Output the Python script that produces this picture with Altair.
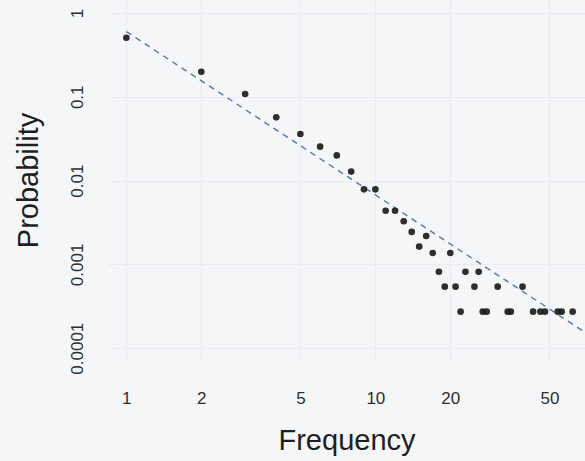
import altair as alt
import pandas as pd

# Frequency values (x) and their probabilities (y)
freq = [1, 2, 3, 4, 5, 6, 7, 8, 9, 10, 11, 12, 13, 14, 15, 16, 17, 18, 19, 20,
        21, 22, 23, 25, 26, 27, 28, 31, 34, 35, 39, 43, 46, 48, 54, 56, 62]
prob = [0.507, 0.199, 0.108, 0.0569, 0.036, 0.0254, 0.020, 0.0128, 0.00787, 0.00787,
        0.00437, 0.00437, 0.00327, 0.00244, 0.00163, 0.00218, 0.00137, 0.000818, 0.000542, 0.00137,
        0.000542, 0.000273, 0.000818, 0.000542, 0.000818, 0.000273, 0.000273, 0.000542, 0.000273, 0.000273,
        0.000542, 0.000273, 0.000273, 0.000273, 0.000273, 0.000273, 0.000273]

# Fitted power-law reference line endpoints
fit_x = [1, 69]
fit_p = [0.6, 0.000157]

x_ticks = [1, 2, 5, 10, 20, 50]
y_ticks = [1, 0.1, 0.01, 0.001, 0.0001]

pts = pd.DataFrame({"Frequency": freq, "Probability": prob})
fit = pd.DataFrame({"Frequency": fit_x, "Probability": fit_p})

FONT = "Liberation Sans"

xscale = alt.Scale(type="log", domain=[0.844, 69.5], nice=False)
yscale = alt.Scale(type="log", domain=[7.23e-5, 1.43], nice=False)

xaxis = alt.Axis(values=x_ticks, format="~g", domain=False, ticks=False, tickSize=0,
                 labelFontSize=17, labelPadding=43, labelBaseline="alphabetic",
                 labelColor="#2e2e2e", labelFont=FONT,
                 title="Frequency", titleFont=FONT, titleFontSize=29, titleFontWeight="normal",
                 titleColor="#1e1e1e", titleY=89, titleBaseline="alphabetic",
                 gridColor="#ebecef", gridWidth=1)
yaxis = alt.Axis(values=y_ticks, format="~g", domain=False, ticks=False, tickSize=0,
                 labelFontSize=17, labelPadding=26, labelAngle=270, labelAlign="center",
                 labelBaseline="alphabetic", labelColor="#2e2e2e", labelFont=FONT,
                 title="Probability", titleFont=FONT, titleFontSize=29, titleFontWeight="normal",
                 titleColor="#1e1e1e", titleAngle=270, titleX=-71, titleY=180,
                 titleAlign="center", titleBaseline="alphabetic",
                 gridColor="#ebecef", gridWidth=1)

points = alt.Chart(pts).mark_circle(size=44, color="#1c1c1c", opacity=0.92).encode(
    x=alt.X("Frequency:Q", scale=xscale, axis=xaxis),
    y=alt.Y("Probability:Q", scale=yscale, axis=yaxis),
)

line = alt.Chart(fit).mark_line(color="#5576b3", strokeWidth=1.4, strokeDash=[6, 5], clip=True).encode(
    x=alt.X("Frequency:Q", scale=xscale),
    y=alt.Y("Probability:Q", scale=yscale),
)

chart = alt.layer(line, points).properties(
    width=477, height=360,
    autosize="none",
    padding={"left": 108, "top": 0, "right": 0, "bottom": 101},
    background="#f5f6f8",
).configure_view(stroke=None)

chart.save("out.html", embed_options={"renderer": "svg", "actions": False})
